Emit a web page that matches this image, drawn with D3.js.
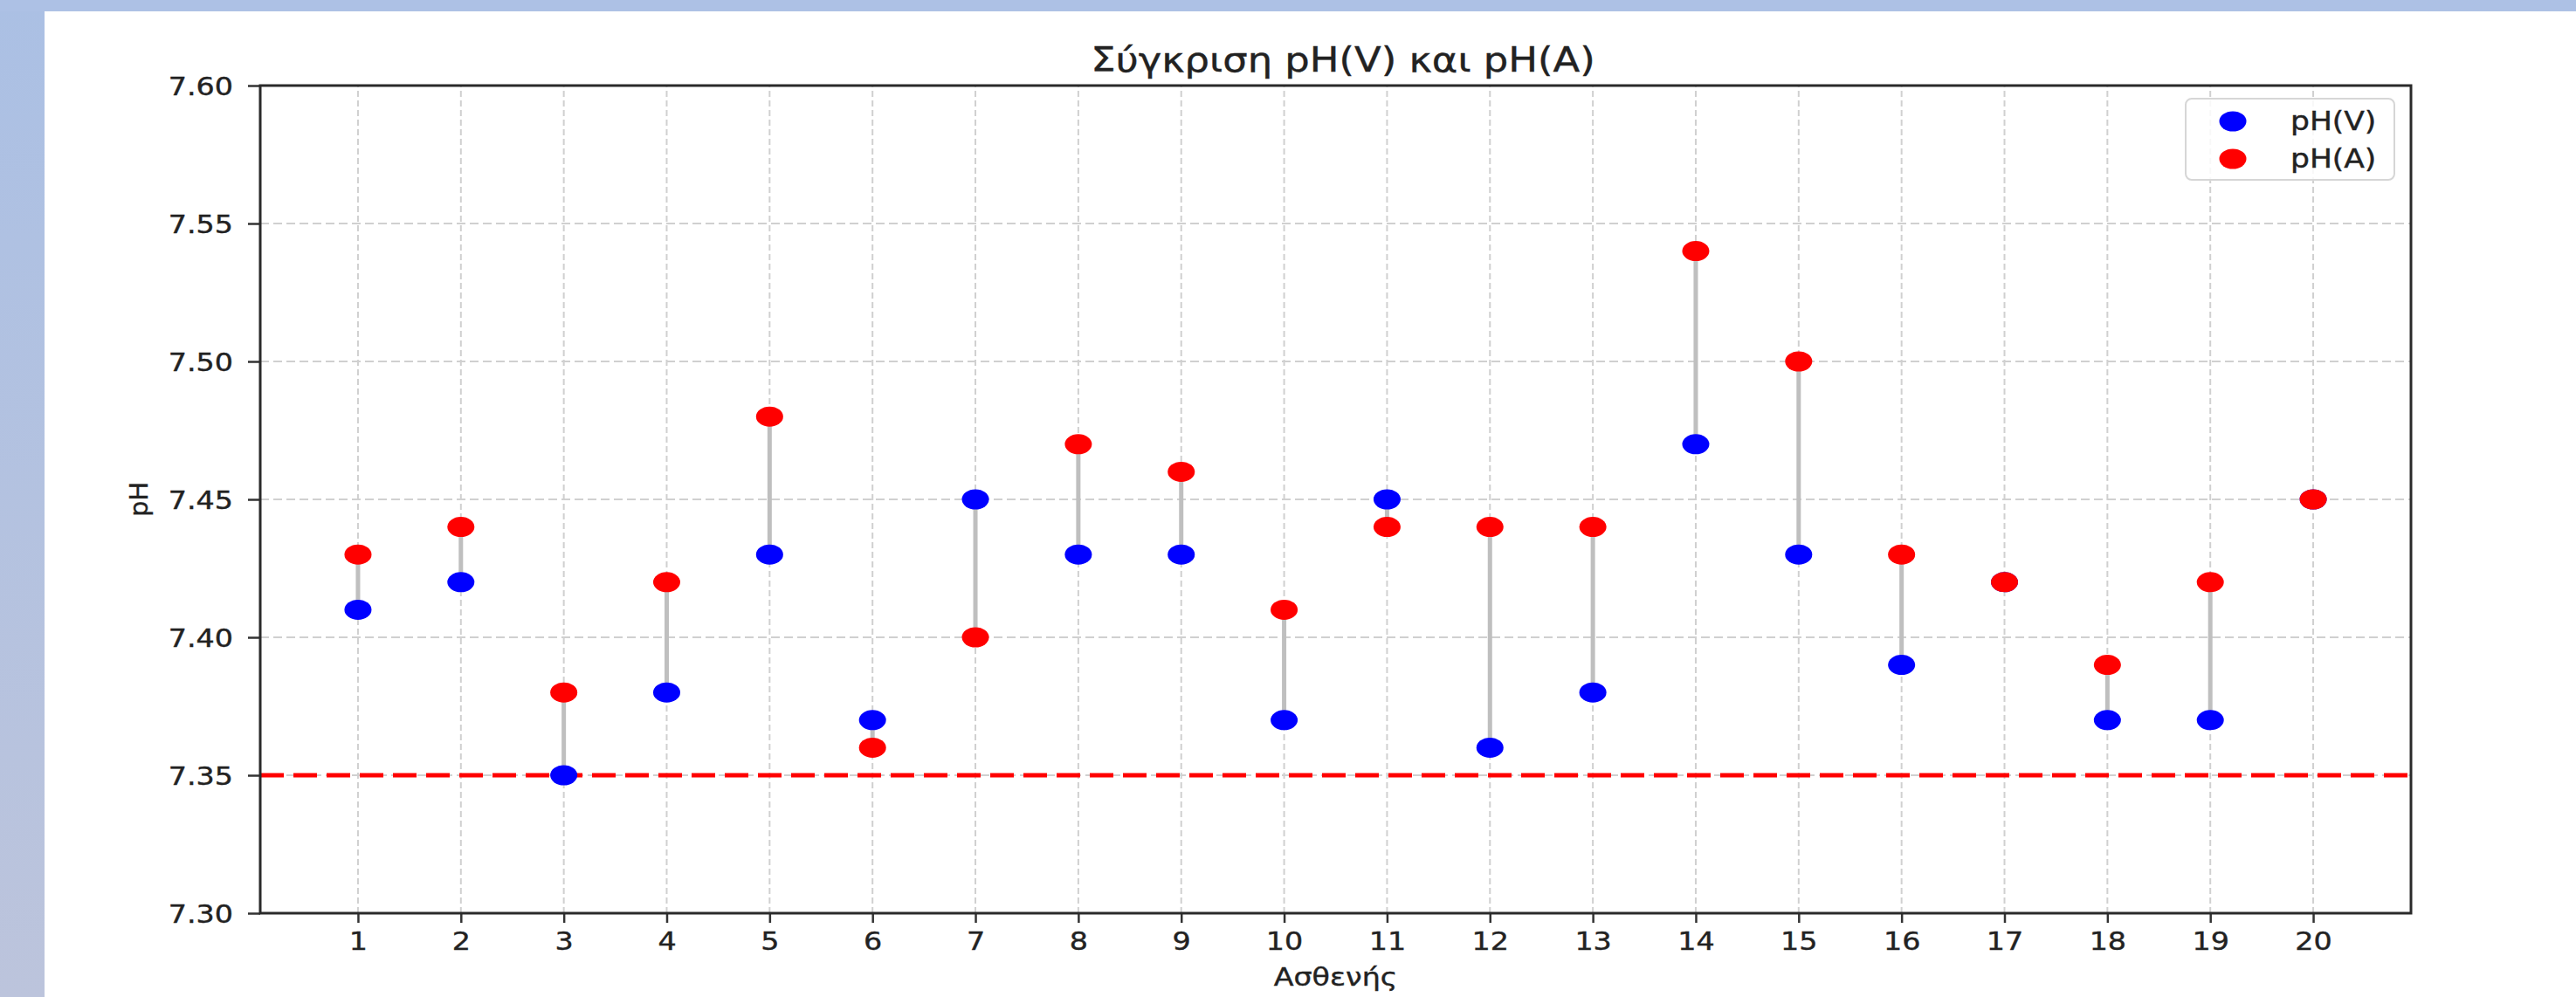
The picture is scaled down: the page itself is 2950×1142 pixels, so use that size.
<!DOCTYPE html>
<html>
<head>
<meta charset="utf-8">
<script src="https://cdn.jsdelivr.net/npm/d3@7"></script>
<style>
  html, body { margin: 0; padding: 0; background: #fff; }
  svg { display: block; }
  text { font-family: "DejaVu Sans", sans-serif; fill: #222; }
</style>
</head>
<body>
<svg id="chart" width="2950" height="1142"></svg>
<script>
// ---------- data ----------
const patients = [1,2,3,4,5,6,7,8,9,10,11,12,13,14,15,16,17,18,19,20];
const phV = [7.41,7.42,7.35,7.38,7.43,7.37,7.45,7.43,7.43,7.37,7.45,7.36,7.38,7.47,7.43,7.39,7.42,7.37,7.37,7.45];
const phA = [7.43,7.44,7.38,7.42,7.48,7.36,7.40,7.47,7.46,7.41,7.44,7.44,7.44,7.54,7.50,7.43,7.42,7.39,7.42,7.45];
const seriesNames = ["pH(V)", "pH(A)"];
const seriesColors = ["#0000ff", "#ff0000"];
const yTicks = [7.30,7.35,7.40,7.45,7.50,7.55,7.60];
const threshold = 7.35;
const titleText = "Σύγκριση pH(V) και pH(A)";
const xLabel = "Ασθενής";
const yLabel = "pH";

// ---------- layout ----------
const SX = 1.15; // horizontal stretch of the reference picture
const svg = d3.select("#chart");

const defs = svg.append("defs");
const grad = defs.append("linearGradient").attr("id","leftband").attr("x1",0).attr("y1",0).attr("x2",0).attr("y2",1);
grad.append("stop").attr("offset","0%").attr("stop-color","#abc0e4");
grad.append("stop").attr("offset","100%").attr("stop-color","#bcc4dc");
svg.append("rect").attr("x",0).attr("y",0).attr("width",2950).attr("height",1142).attr("fill","#fff");
svg.append("rect").attr("x",0).attr("y",0).attr("width",51).attr("height",1142).attr("fill","url(#leftband)");
svg.append("rect").attr("x",0).attr("y",0).attr("width",2950).attr("height",13).attr("fill","#adc1e5");

const x = d3.scaleLinear().domain([0.05, 20.95]).range([298, 2761]);
const y = d3.scaleLinear().domain([7.30, 7.60]).range([1046, 98]);

const plot = svg.append("g");

// grid
plot.append("g").selectAll("line").data(yTicks).join("line")
  .attr("x1", x.range()[0]).attr("x2", x.range()[1])
  .attr("y1", d => y(d)).attr("y2", d => y(d))
  .attr("stroke", "#d0d0d0").attr("stroke-width", 2).attr("stroke-dasharray", "10,5");
plot.append("g").selectAll("line").data(patients).join("line")
  .attr("x1", d => x(d)).attr("x2", d => x(d))
  .attr("y1", y.range()[0]).attr("y2", y.range()[1])
  .attr("stroke", "#d0d0d0").attr("stroke-width", 2).attr("stroke-dasharray", "7,4");

// threshold line
plot.append("line")
  .attr("x1", x.range()[0]).attr("x2", x.range()[1])
  .attr("y1", y(threshold)).attr("y2", y(threshold))
  .attr("stroke", "#ff0000").attr("stroke-width", 5).attr("stroke-dasharray", "27,11");

// stems
plot.append("g").selectAll("line").data(patients).join("line")
  .attr("x1", d => x(d)).attr("x2", d => x(d))
  .attr("y1", (d,i) => y(phV[i])).attr("y2", (d,i) => y(phA[i]))
  .attr("stroke", "#bfbfbf").attr("stroke-width", 5);

// points
const RX = 15.5, RY = 11.5;
[phV, phA].forEach((vals, si) => {
  plot.append("g").selectAll("ellipse").data(patients).join("ellipse")
    .attr("cx", d => x(d)).attr("cy", (d,i) => y(vals[i]))
    .attr("rx", RX).attr("ry", RY)
    .attr("fill", seriesColors[si]);
});

// axes
const yAxis = d3.axisLeft(y).tickValues(yTicks).tickFormat(d => d.toFixed(2)).tickSize(14).tickSizeOuter(0);
const gy = svg.append("g").attr("transform", `translate(${x.range()[0]},0)`).call(yAxis);
gy.select(".domain").remove();
gy.selectAll(".tick line").attr("stroke", "#333").attr("stroke-width", 2.5);
gy.selectAll(".tick text")
  .attr("x", -31 / SX).attr("dy", "0.36em")
  .attr("transform", `scale(${SX},1)`)
  .style("font-size", "29px").style("font-family", "DejaVu Sans").attr("fill", "#222")
  .attr("stroke", "#222").attr("stroke-width", 0.4);

const xAxis = d3.axisBottom(x).tickValues(patients).tickFormat(d3.format("d")).tickSize(11).tickSizeOuter(0);
const gx = svg.append("g").attr("transform", `translate(0,${y.range()[0]})`).call(xAxis);
gx.select(".domain").remove();
gx.selectAll(".tick line").attr("stroke", "#333").attr("stroke-width", 2.5);
gx.selectAll(".tick text")
  .attr("y", 42).attr("dy", 0)
  .attr("transform", `scale(${SX},1)`)
  .style("font-size", "29px").style("font-family", "DejaVu Sans").attr("fill", "#222")
  .attr("stroke", "#222").attr("stroke-width", 0.4);

// spines
svg.append("rect")
  .attr("x", x.range()[0]).attr("y", y.range()[1])
  .attr("width", x.range()[1] - x.range()[0]).attr("height", y.range()[0] - y.range()[1])
  .attr("fill", "none").attr("stroke", "#2a2a2a").attr("stroke-width", 3);

function stretchedText(px, py, str, size, anchor) {
  const g = svg.append("g").attr("transform", `translate(${px},${py}) scale(${SX},1)`);
  g.append("text").attr("x", 0).attr("y", 0).attr("text-anchor", anchor || "start")
    .style("font-size", size + "px").attr("stroke", "#222").attr("stroke-width", 0.4).text(str);
  return g;
}

// title & labels
stretchedText(1538, 82, titleText, 39, "middle");
stretchedText((x.range()[0] + x.range()[1]) / 2, 1129, xLabel, 29, "middle");
svg.append("g").attr("transform", `translate(169,${(y.range()[0] + y.range()[1]) / 2}) rotate(-90)`)
  .append("text").attr("text-anchor", "middle").style("font-size", "29px")
  .attr("stroke", "#222").attr("stroke-width", 0.4).text(yLabel);

// legend
const lg = svg.append("g");
lg.append("rect").attr("x", 2503).attr("y", 113).attr("width", 239).attr("height", 93).attr("rx", 7)
  .attr("fill", "#fff").attr("fill-opacity", 0.85).attr("stroke", "#d6d6d6").attr("stroke-width", 2);
seriesNames.forEach((name, i) => {
  const cy = 139 + i * 43;
  lg.append("ellipse").attr("cx", 2557).attr("cy", cy).attr("rx", RX).attr("ry", RY).attr("fill", seriesColors[i]);
  stretchedText(2623, cy + 10, name, 30, "start");
});
</script>
</body>
</html>
